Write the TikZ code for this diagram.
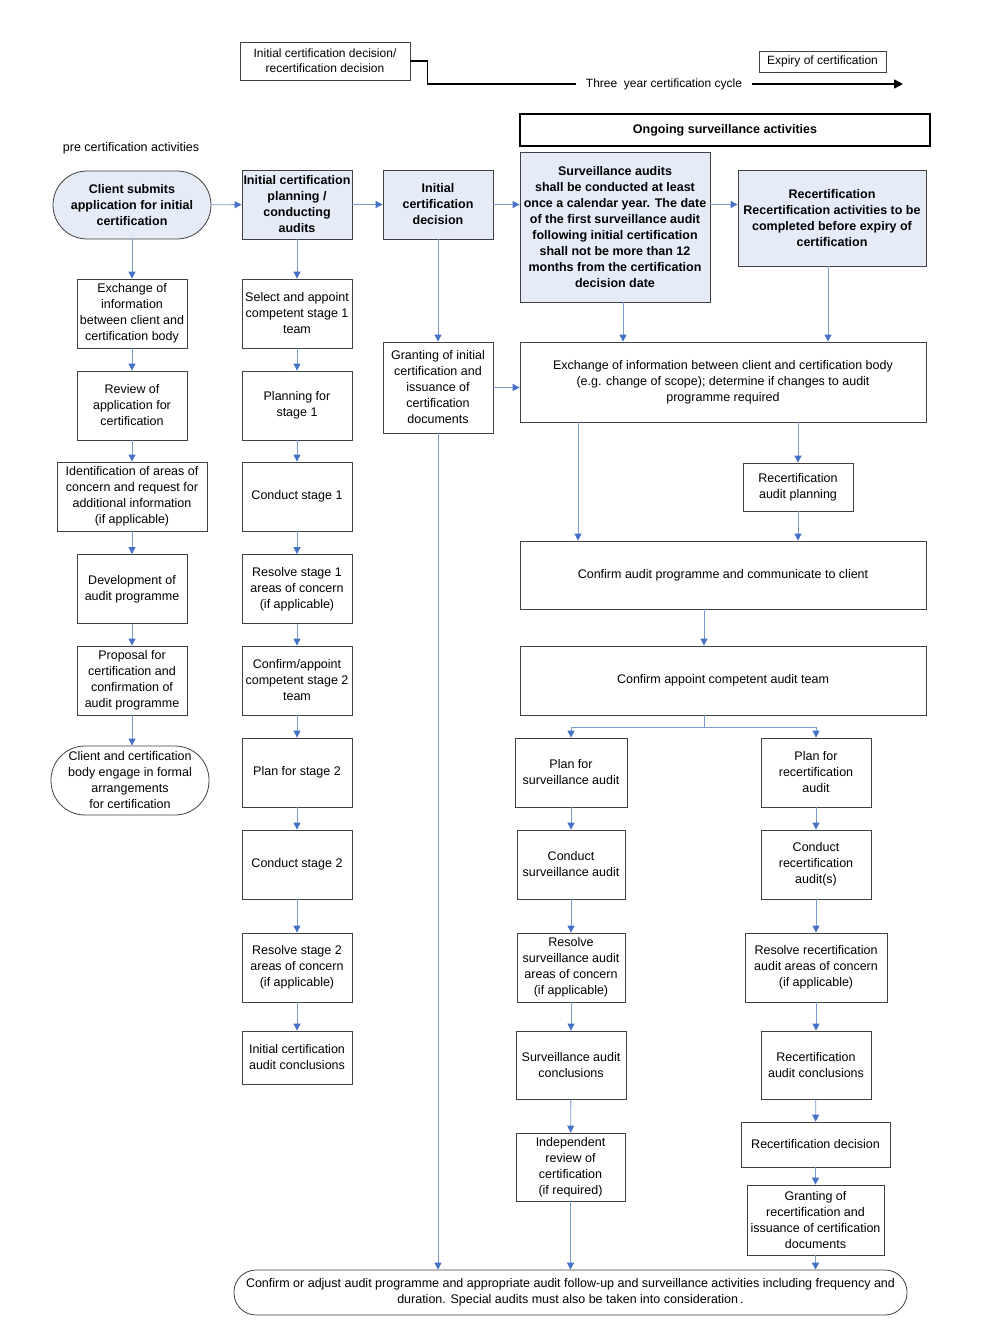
\documentclass[tikz,border=0pt]{standalone}
\usepackage{fontspec}
\setmainfont{Liberation Sans}
\usetikzlibrary{arrows.meta}
\definecolor{boxline}{RGB}{64,64,64}
\definecolor{headfill}{RGB}{230,236,247}
\definecolor{flowline}{RGB}{120,155,210}
\definecolor{flowtip}{RGB}{68,114,196}
\begin{document}
\begin{tikzpicture}[x=1pt, y=-1pt,
  every node/.style={font=\fontsize{12.5}{16}\selectfont},
  box/.style={draw=boxline, line width=0.8pt, align=center, inner sep=1pt, minimum width=110pt, minimum height=69pt},
  head/.style={box, fill=headfill, font=\fontsize{12.5}{16}\selectfont\bfseries},
  term/.style={box, rounded corners=34pt, minimum width=158pt},
  flow/.style={draw=flowline, line width=0.9pt, -{Triangle[width=7pt,length=7pt,color=flowtip]}},
  plain/.style={draw=flowline, line width=0.9pt}
]
  \useasboundingbox (0,0) rectangle (987,1343);

  % time line
  \node[box, minimum width=170pt, minimum height=38pt, font=\fontsize{12}{15}\selectfont] (initdec) at (325,61) {Initial certification decision/\\recertification decision};
  \node[box, minimum width=127pt, minimum height=21pt, font=\fontsize{12}{15}\selectfont] (expiry) at (822.5,61.5) {Expiry of certification};
  \node[font=\fontsize{12}{15}\selectfont, inner xsep=10pt] (cycle) at (664,84) {Three\ \ year certification cycle};
  \coordinate (cycleend) at (903,84);
  \draw[line width=1.6pt] (initdec.east) -- ++(17,0) |- (cycle.west);
  \draw[line width=1.6pt, -{Triangle[width=9pt,length=9pt]}] (cycle.east) -- (cycleend);

  \node[draw, line width=1.8pt, minimum width=410pt, minimum height=32pt, font=\fontsize{12.5}{16}\selectfont\bfseries] (ongoing) at (725,130) {Ongoing surveillance activities};
  \node (precert) at (131,148) {pre certification activities};

  % top row
  \node[head, term, minimum height=68pt] (client) at (132,205) {Client submits\\application for initial\\certification};
  \node[head] (planaud) at (297,204.5) {Initial certification\\planning /\\conducting\\audits};
  \node[head] (initdecision) at (438,204.5) {Initial\\certification\\decision};
  \node[head, minimum width=190pt, minimum height=150pt] (surv) at (615,227) {Surveillance audits\\shall be conducted at least\\once a calendar year. The date\\of the first surveillance audit\\following initial certification\\shall not be more than 12\\months from the certification\\decision date};
  \node[head, minimum width=188pt, minimum height=96pt] (recert) at (832,218) {Recertification\\Recertification activities to be\\completed before expiry of\\certification};

  \draw[flow] (client) -- (planaud);
  \draw[flow] (planaud) -- (initdecision);
  \draw[flow] (initdecision) -- (initdecision -| surv.west);
  \draw[flow] (surv.east |- planaud) -- (recert.west |- planaud);

  % pre certification
  \node[box] (exch1) at (132,313.5) {Exchange of\\information\\between client and\\certification body};
  \node[box] (review) at (132,405.5) {Review of\\application for\\certification};
  \node[box, minimum width=150pt] (ident) at (132,496.5) {Identification of areas of\\concern and request for\\additional information\\(if applicable)};
  \node[box] (devel) at (132,589) {Development of\\audit programme};
  \node[box] (propos) at (132,680.5) {Proposal for\\certification and\\confirmation of\\audit programme};
  \node[term, minimum height=69pt] (engage) at (130,780.5) {Client and certification\\body engage in formal\\arrangements\\for certification};

  \draw[flow] (client) -- (exch1);
  \draw[flow] (exch1) -- (review);
  \draw[flow] (review) -- (ident);
  \draw[flow] (ident) -- (devel);
  \draw[flow] (devel) -- (propos);
  \draw[flow] (propos) -- (propos |- engage.north);

  % initial audits
  \node[box] (select) at (297,313.5) {Select and appoint\\competent stage 1\\team};
  \node[box] (plan1) at (297,405.5) {Planning for\\stage 1};
  \node[box] (cond1) at (297,496.5) {Conduct stage 1};
  \node[box] (resolv1) at (297,589) {Resolve stage 1\\areas of concern\\(if applicable)};
  \node[box] (confirm2) at (297,680.5) {Confirm/appoint\\competent stage 2\\team};
  \node[box] (plan2) at (297,772.5) {Plan for stage 2};
  \node[box] (cond2) at (297,864.5) {Conduct stage 2};
  \node[box] (resolv2) at (297,967.5) {Resolve stage 2\\areas of concern\\(if applicable)};
  \node[box, minimum height=53pt] (concl) at (297,1057.5) {Initial certification\\audit conclusions};

  \draw[flow] (planaud) -- (select);
  \draw[flow] (select) -- (plan1);
  \draw[flow] (plan1) -- (cond1);
  \draw[flow] (cond1) -- (resolv1);
  \draw[flow] (resolv1) -- (confirm2);
  \draw[flow] (confirm2) -- (plan2);
  \draw[flow] (plan2) -- (cond2);
  \draw[flow] (cond2) -- (resolv2);
  \draw[flow] (resolv2) -- (concl);

  % decision
  \node[box, minimum height=91pt] (granting) at (438,387.5) {Granting of initial\\certification and\\issuance of\\certification\\documents};
  \draw[flow] (initdecision) -- (granting);

  % surveillance and recertification
  \node[box, minimum width=406pt, minimum height=80pt] (exch2) at (723,382) {Exchange of information between client and certification body\\(e.g. change of scope); determine if changes to audit\\programme required};
  \node[box, minimum height=48pt] (recplan) at (798,487) {Recertification\\audit planning};
  \node[box, minimum width=406pt, minimum height=68pt] (confprog) at (723,575) {Confirm audit programme and communicate to client};
  \node[box, minimum width=406pt] (confteam) at (723,680.5) {Confirm appoint competent audit team};

  \draw[flow] (granting) -- (granting -| exch2.west);
  \draw[flow] ([xshift=8pt]surv.south) -- ([xshift=8pt]surv.south |- exch2.north);
  \draw[flow] ([xshift=-4pt]recert.south) -- ([xshift=-4pt]recert.south |- exch2.north);
  \draw[flow] (exch2.south -| recplan) -- (recplan);
  \draw[flow] ([xshift=-145pt]exch2.south) -- ([xshift=-145pt]exch2.south |- confprog.north);
  \draw[flow] (recplan) -- (recplan |- confprog.north);
  \draw[flow] ([xshift=-19pt]confprog.south) -- ([xshift=-19pt]confteam.north);

  \node[box, minimum width=112pt] (plansurv) at (571,772.5) {Plan for\\surveillance audit};
  \node[box, minimum width=108pt] (condsurv) at (571,864.5) {Conduct\\surveillance audit};
  \node[box, minimum width=108pt] (resolsurv) at (571,967.5) {Resolve\\surveillance audit\\areas of concern\\(if applicable)};
  \node[box, minimum height=68pt] (survconcl) at (571,1065) {Surveillance audit\\conclusions};
  \node[box, minimum width=109pt, minimum height=68pt] (indep) at (570.5,1167) {Independent\\review of\\certification\\(if required)};

  \node[box] (planrec) at (816,772.5) {Plan for\\recertification\\audit};
  \node[box] (condrec) at (816,864.5) {Conduct\\recertification\\audit(s)};
  \node[box, minimum width=142pt] (resolrec) at (816,967.5) {Resolve recertification\\audit areas of concern\\(if applicable)};
  \node[box, minimum height=68pt] (recconcl) at (816,1065) {Recertification\\audit conclusions};
  \node[box, minimum width=149pt, minimum height=45pt] (recdec) at (815.5,1144.5) {Recertification decision};
  \node[box, minimum width=137pt, minimum height=70pt] (grantrec) at (815.5,1220) {Granting of\\recertification and\\issuance of certification\\documents};

  \draw[plain] ([xshift=-19pt]confteam.south) -- ++(0,12) coordinate (split);
  \draw[flow] (split) -| (plansurv);
  \draw[flow] (split) -| (planrec);

  \draw[flow] (plansurv) -- (condsurv);
  \draw[flow] (condsurv) -- (resolsurv);
  \draw[flow] (resolsurv) -- (survconcl);
  \draw[flow] (survconcl) -- (indep);
  \draw[flow] (planrec) -- (condrec);
  \draw[flow] (condrec) -- (resolrec);
  \draw[flow] (resolrec) -- (recconcl);
  \draw[flow] (recconcl) -- (recdec);
  \draw[flow] (recdec) -- (grantrec);

  % end
  \node[box, rounded corners=22pt, minimum width=673pt, minimum height=45pt] (final) at (570.5,1292.5) {Confirm or adjust audit programme and appropriate audit follow-up and surveillance activities including frequency and\\duration. Special audits must also be taken into consideration\,.};

  \draw[flow] (granting) -- (granting |- final.north);
  \draw[flow] (indep) -- (indep |- final.north);
  \draw[flow] (grantrec) -- (grantrec |- final.north);
\end{tikzpicture}
\end{document}
